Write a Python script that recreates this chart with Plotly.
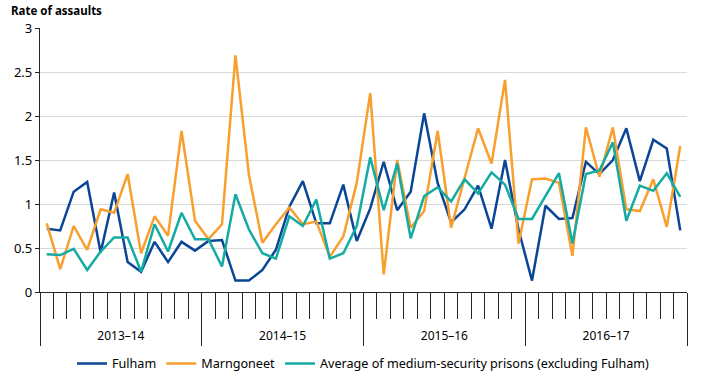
import plotly.graph_objects as go

years = ["2013–14", "2014–15", "2015–16", "2016–17"]
months_per_year = 12

fulham = [0.72, 0.70, 1.14, 1.25, 0.45, 1.13, 0.34, 0.23, 0.57, 0.34, 0.57, 0.47,
          0.58, 0.59, 0.13, 0.13, 0.25, 0.48, 0.97, 1.26, 0.78, 0.78, 1.22, 0.58,
          0.95, 1.48, 0.93, 1.14, 2.03, 1.24, 0.79, 0.94, 1.21, 0.72, 1.50, 0.71,
          0.13, 0.98, 0.83, 0.84, 1.48, 1.34, 1.50, 1.86, 1.26, 1.73, 1.63, 0.70]
marngoneet = [0.78, 0.26, 0.75, 0.48, 0.94, 0.90, 1.34, 0.44, 0.86, 0.64, 1.83, 0.81,
              0.60, 0.77, 2.69, 1.33, 0.56, 0.77, 0.96, 0.77, 0.80, 0.40, 0.63, 1.24,
              2.26, 0.20, 1.50, 0.73, 0.92, 1.83, 0.73, 1.30, 1.86, 1.46, 2.41, 0.55,
              1.28, 1.29, 1.24, 0.41, 1.87, 1.31, 1.87, 0.94, 0.92, 1.28, 0.74, 1.66]
average = [0.43, 0.42, 0.49, 0.25, 0.46, 0.62, 0.62, 0.23, 0.77, 0.46, 0.90, 0.60,
           0.60, 0.29, 1.11, 0.71, 0.44, 0.38, 0.86, 0.75, 1.05, 0.38, 0.44, 0.75,
           1.53, 0.93, 1.46, 0.61, 1.09, 1.19, 1.03, 1.28, 1.12, 1.36, 1.22, 0.83,
           0.83, 1.09, 1.35, 0.55, 1.34, 1.38, 1.70, 0.81, 1.21, 1.15, 1.35, 1.08]

series = [("Fulham", fulham, "#0b4596"),
          ("Marngoneet", marngoneet, "#f89f2e"),
          ("Average of medium-security prisons (excluding Fulham)", average, "#15aba2")]

n = len(fulham)
xs = [i + 0.5 for i in range(n)]
FONT = "Noto Sans"

fig = go.Figure()
for name, vals, col in series:
    fig.add_trace(go.Scatter(x=xs, y=vals, mode="lines", name=name,
                             line=dict(color=col, width=2.5)))

# invisible traces to activate extra axes
fig.add_trace(go.Scatter(x=[0], y=[0], xaxis="x2", mode="markers",
                         marker=dict(opacity=0), showlegend=False, hoverinfo="skip"))
fig.add_trace(go.Scatter(x=[0], y=[0], xaxis="x3", mode="markers",
                         marker=dict(opacity=0), showlegend=False, hoverinfo="skip"))

axis_col = "#262626"
fig.update_layout(
    width=703, height=387,
    margin=dict(l=40, r=16, t=28, b=95, autoexpand=False),
    plot_bgcolor="white", paper_bgcolor="white",
    font=dict(family=FONT, size=12, color="#000000"),
    xaxis=dict(range=[0, n], tickvals=list(range(n + 1)), ticks="outside",
               ticklen=26, tickwidth=1, tickcolor=axis_col, showticklabels=False,
               showgrid=False, zeroline=False, showline=True, linecolor=axis_col,
               linewidth=1.2, fixedrange=True, automargin=False),
    xaxis2=dict(overlaying="x", side="bottom", range=[0, n],
                tickvals=[k * months_per_year for k in range(len(years) + 1)],
                ticks="outside", ticklen=53, tickwidth=1, tickcolor=axis_col,
                showticklabels=False, showgrid=False, zeroline=False, showline=False,
                automargin=False),
    xaxis3=dict(overlaying="x", side="bottom", range=[0, n],
                tickvals=[k * months_per_year + months_per_year / 2 for k in range(len(years))],
                ticktext=years, ticks="", ticklabelstandoff=35,
                tickfont=dict(size=12, family=FONT),
                showgrid=False, zeroline=False, showline=False, automargin=False),
    yaxis=dict(range=[0, 3], tickvals=[0, 0.5, 1, 1.5, 2, 2.5, 3],
               ticktext=["0", "0.5", "1", "1.5", "2", "2.5", "3"],
               ticks="outside", ticklen=4, tickcolor=axis_col, tickwidth=1,
               showgrid=True, gridcolor="#d9d9d9", gridwidth=1, zeroline=False,
               showline=True, linecolor=axis_col, linewidth=1.2,
               tickfont=dict(size=13, family=FONT), fixedrange=True, automargin=False),
    legend=dict(orientation="h", x=0.5, xanchor="center", y=-0.272, yanchor="middle",
                font=dict(size=12.6, family=FONT), itemwidth=30, tracegroupgap=0),
    showlegend=True,
    annotations=[dict(text="<b>Rate of assaults</b>", xref="paper", yref="paper",
                      x=0, y=1, xshift=-31, yshift=8, xanchor="left", yanchor="bottom",
                      showarrow=False, font=dict(size=11.5, family=FONT))],
)

fig.write_html("out.html", config={"displayModeBar": False},
               post_script="document.body.style.margin='0';")
